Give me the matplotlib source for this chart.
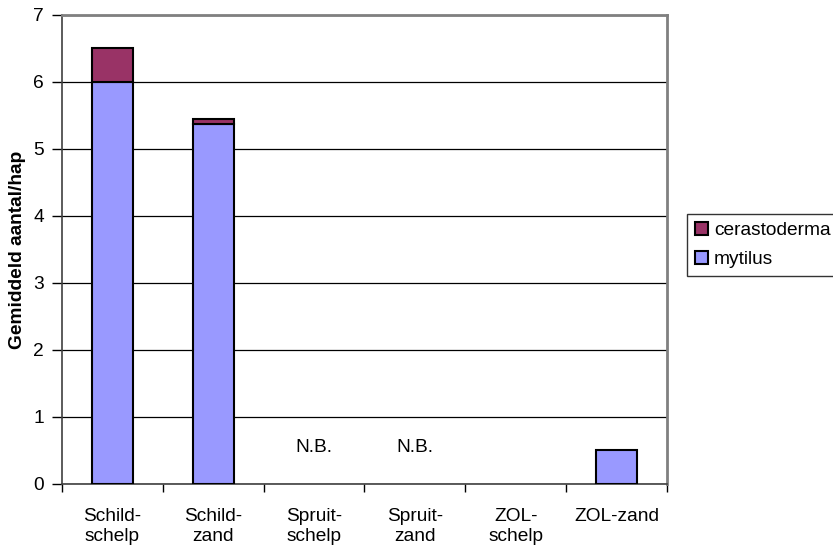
import numpy as np
import matplotlib
matplotlib.use("Agg")
import matplotlib.pyplot as plt

plt.rcParams['font.family'] = ['Liberation Sans', 'DejaVu Sans']

# data
locaties = ["Schild-\nschelp", "Schild-\nzand", "Spruit-\nschelp", "Spruit-\nzand", "ZOL-\nschelp", "ZOL-zand"]
mytilus = [6.0, 5.38, 0.0, 0.0, 0.0, 0.5]
cerastoderma = [0.5, 0.07, 0.0, 0.0, 0.0, 0.0]
niet_bemonsterd = ["Spruit-\nschelp", "Spruit-\nzand"]
nb_hoogte = 0.55

fs = 13.8

fig = plt.figure(figsize=(8.33, 5.51), dpi=100)
ax = fig.add_axes([0.0744, 0.1216, 0.7263, 0.8512])

x = np.arange(len(locaties))
w = 0.41
b1 = ax.bar(x, mytilus, w, color="#9999FF", edgecolor="black", linewidth=1.5, label="mytilus", zorder=3)
b2 = ax.bar(x, cerastoderma, w, bottom=mytilus, color="#993366", edgecolor="black", linewidth=1.5,
            label="cerastoderma", zorder=3)
# hide zero-height bar outlines
for i in range(len(locaties)):
    if mytilus[i] == 0:
        b1[i].set_visible(False)
    if cerastoderma[i] == 0:
        b2[i].set_visible(False)

for naam in niet_bemonsterd:
    i = locaties.index(naam)
    ax.text(x[i], nb_hoogte, "N.B.", ha="center", va="center", fontsize=fs)

ax.set_xlim(-0.5, len(locaties) - 0.5)
ax.set_ylim(0, 7)
ax.set_yticks(range(0, 8))
ax.yaxis.grid(True, color="black", linewidth=0.9, zorder=0)
ax.set_axisbelow(True)

ax.set_xticks(x)
ax.set_xticklabels(locaties, fontsize=fs, linespacing=1.25)
ax.set_xticks(np.arange(-0.5, len(locaties)), minor=True)
ax.tick_params(axis="x", which="major", length=0, pad=17)
ax.tick_params(axis="x", which="minor", length=6, width=1, direction="out")
ax.tick_params(axis="y", length=7, width=1, direction="out", labelsize=fs, pad=6)

for s in ["top", "right"]:
    ax.spines[s].set_color("#808080")
    ax.spines[s].set_linewidth(2)
for s in ["left", "bottom"]:
    ax.spines[s].set_color("#404040")
    ax.spines[s].set_linewidth(1.2)

ax.set_ylabel("Gemiddeld aantal/hap", fontsize=fs, fontweight="bold", labelpad=5)

h, l = ax.get_legend_handles_labels()
leg = fig.legend(h[::-1], l[::-1], loc="upper left", bbox_to_anchor=(0.8247, 0.6116),
                 bbox_transform=fig.transFigure, borderaxespad=0, fontsize=fs,
                 handlelength=0.7, handleheight=0.7, handletextpad=0.3,
                 borderpad=0.4, labelspacing=0.6, fancybox=False, frameon=True)
leg.get_frame().set_edgecolor("black")
leg.get_frame().set_linewidth(1)

fig.savefig("out.png", dpi=100)
